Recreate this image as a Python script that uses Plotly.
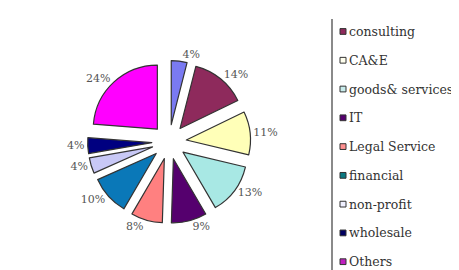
import plotly.graph_objects as go

categories = ["retail", "consulting", "CA&E", "goods& services", "IT", "Legal Service",
              "financial", "non-profit", "wholesale", "Others"]
values = [4, 14, 11, 13, 9, 8, 10, 4, 4, 24]
colors = ["#7A7AF2", "#8E2A5C", "#FFFFB8", "#A8E8E4", "#55006E", "#FF8080",
          "#0A78B8", "#C8C8F6", "#000080", "#FF00FF"]
legend_markers = ["#8E2A5C", "#FFFFEE", "#C8ECEC", "#55006E", "#FF9090",
                  "#0A7880", "#F0F0FF", "#000060", "#C020C0"]
labels_text = [f"{v}%" for v in values]

fig = go.Figure()
fig.add_trace(go.Pie(
    labels=categories, values=values, text=labels_text,
    textinfo="text", textposition="outside",
    sort=False, direction="clockwise", rotation=0,
    pull=[0.27] * len(values),
    marker=dict(colors=colors, line=dict(color="#333333", width=1.2)),
    textfont=dict(family="DejaVu Serif", size=11, color="#555555"),
    domain=dict(x=[0.166, 0.536], y=[0.211, 0.84]),
    showlegend=False, hoverinfo="label+percent",
))

W, H = 459, 270
shapes = [dict(type="line", xref="paper", yref="paper",
               x0=324 / W, x1=324 / W, y0=0, y1=1,
               line=dict(color="#8a8a8a", width=2))]
annotations = []
for i, (name, col) in enumerate(zip(categories[1:], legend_markers)):
    yc = 13 + 30 * i
    shapes.append(dict(type="rect", xref="paper", yref="paper",
                       x0=332 / W, x1=338 / W,
                       y0=1 - (yc + 3) / H, y1=1 - (yc - 3) / H,
                       fillcolor=col, line=dict(color="#333333", width=1)))
    annotations.append(dict(xref="paper", yref="paper", x=339 / W, y=1 - yc / H,
                            text=name, showarrow=False, xanchor="left", yanchor="middle",
                            font=dict(family="DejaVu Serif", size=12.5, color="#333333")))

fig.update_layout(width=W, height=H, margin=dict(l=0, r=0, t=0, b=0),
                  paper_bgcolor="white", plot_bgcolor="white",
                  shapes=shapes, annotations=annotations)
fig.write_html("out.html")
